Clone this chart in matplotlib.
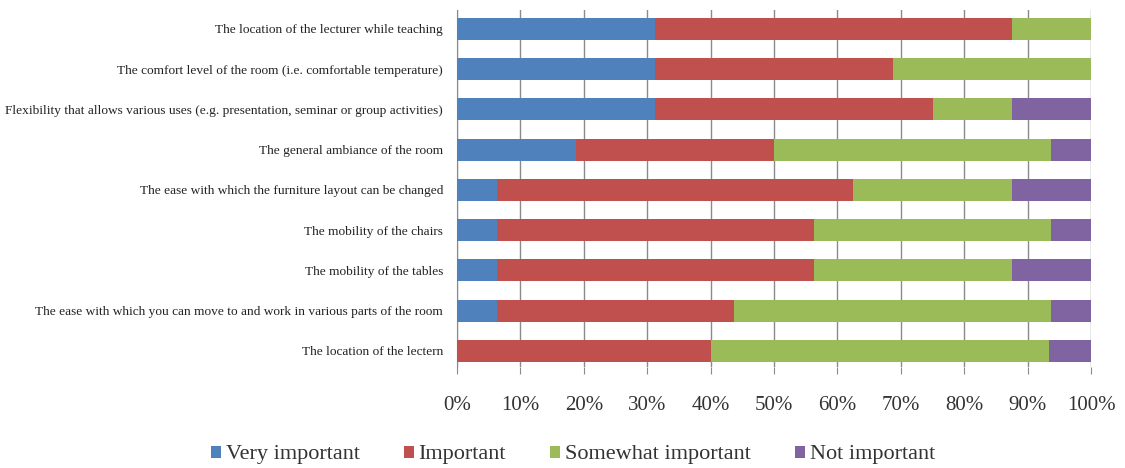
import matplotlib.pyplot as plt
import numpy as np

plt.rcParams['font.family'] = ['Liberation Serif', 'DejaVu Serif']

# survey items, top to bottom
items = [
    'The location of the lecturer while teaching',
    'The comfort level of the room (i.e. comfortable temperature)',
    'Flexibility that allows various uses (e.g. presentation, seminar or group activities)',
    'The general ambiance of the room',
    'The ease with which the furniture layout can be changed',
    'The mobility of the chairs',
    'The mobility of the tables',
    'The ease with which you can move to and work in various parts of the room',
    'The location of the lectern',
]

# percentages per answer
very_important = [31.25, 31.25, 31.25, 18.75, 6.25, 6.25, 6.25, 6.25, 0.0]
important = [56.25, 37.5, 43.75, 31.25, 56.25, 50.0, 50.0, 37.5, 40.0]
somewhat_important = [12.5, 31.25, 12.5, 43.75, 25.0, 37.5, 31.25, 50.0, 53.33]
not_important = [0.0, 0.0, 12.5, 6.25, 12.5, 6.25, 12.5, 6.25, 6.67]

series = [
    ('Very important', very_important, '#4F81BD'),
    ('Important', important, '#C0504D'),
    ('Somewhat important', somewhat_important, '#9BBB59'),
    ('Not important', not_important, '#8064A2'),
]

fig = plt.figure(figsize=(11.25, 4.68), dpi=100)
ax = fig.add_axes([457 / 1125, 1 - 367 / 468, 634 / 1125, 357 / 468])

y = np.arange(len(items))
left = np.zeros(len(items))
for name, vals, col in series:
    vals = np.array(vals)
    ax.barh(y, vals, left=left, height=0.55, color=col, label=name, zorder=3)
    left += vals

ax.set_xlim(0, 100)
ax.set_ylim(8.4, -0.47)
ax.set_xticks(range(0, 101, 10))
ax.set_xticklabels([f'{v}%' for v in range(0, 101, 10)], fontsize=15, color='#333333')
ax.set_yticks(y)
ax.set_yticklabels(items, fontsize=9.6, color='#222222')
ax.tick_params(axis='y', length=0, pad=10)
ax.tick_params(axis='x', length=5, color='#8a8a8a', pad=16)
ax.grid(axis='x', color='#8a8a8a', linewidth=1, zorder=0)
for s in ['top', 'right', 'bottom']:
    ax.spines[s].set_visible(False)
ax.spines['left'].set_color('#8a8a8a')

fig.legend(loc='center', bbox_to_anchor=(573 / 1125, 1 - 455 / 468), ncol=4,
           frameon=False, fontsize=16, handlelength=0.45, handleheight=0.45,
           handletextpad=0.2, columnspacing=2.0, labelcolor='#333333')

fig.savefig('out.png', dpi=100)
